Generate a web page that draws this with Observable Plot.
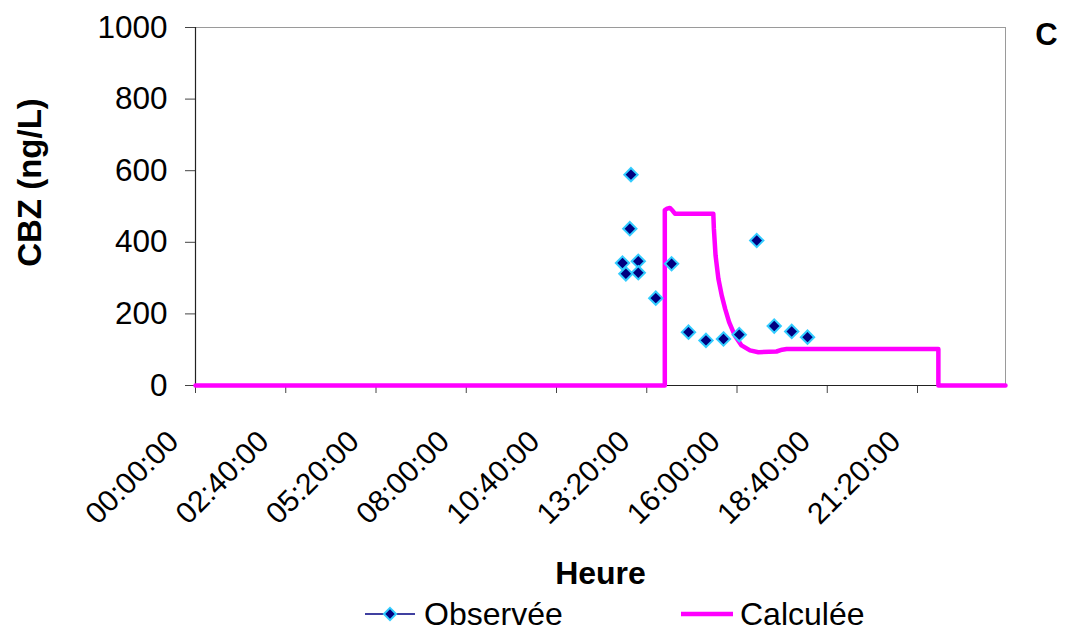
<!DOCTYPE html>
<html><head><meta charset="utf-8">
<script src="https://cdn.jsdelivr.net/npm/d3@7"></script>
<script src="https://cdn.jsdelivr.net/npm/@observablehq/plot@0.6"></script>
<style>
body{margin:0;background:#fff;font-family:"Liberation Sans",Arial,sans-serif;}
#legend{width:1077px;height:42px;}
</style></head><body>
<div id="chart"></div>
<div id="legend"></div>
<script>
// Observed data (time in minutes since 00:00)
const obsTime  = [757, 763, 770, 772, 785, 785, 816, 844, 874, 905, 936, 964, 995, 1026, 1057, 1085];
const obsValue = [342, 312, 438, 589, 347, 315, 244, 340, 149, 126, 130, 142, 405, 166, 151, 135];
// Calculated series
const calcTime  = [0, 832, 832, 836, 841, 846, 850, 918, 919, 922, 927, 933, 939, 946, 956, 968, 983, 998, 1030, 1040, 1048, 1317, 1317, 1436];
const calcValue = [0, 0, 490, 494, 496, 488, 480, 480, 438, 363, 298, 251, 214, 177, 140, 112, 98, 93, 95, 100, 102, 102, 0, 0];
const xTicks = [0, 160, 320, 480, 640, 800, 960, 1120, 1280];
const yTicks = [0, 200, 400, 600, 800, 1000];
const seriesNames = ["Observée", "Calculée"];

const obs = obsTime.map((t, i) => ({t, v: obsValue[i]}));
const calc = calcTime.map((t, i) => ({t, v: calcValue[i]}));
const pad = n => String(n).padStart(2, "0");
const fmt = m => `${pad(Math.floor(m / 60))}:${pad(m % 60)}:00`;

const chart = Plot.plot({
  width: 1077,
  height: 592,
  marginLeft: 195,
  marginRight: 72,
  marginTop: 27,
  marginBottom: 207,
  style: {fontFamily: "'Liberation Sans', Arial, sans-serif", fontSize: "30px", color: "#000", background: "#fff"},
  x: {domain: [0, 1436], axis: null},
  y: {domain: [0, 1000], axis: null},
  marks: [
    Plot.frame({stroke: "#9a9a9a", strokeWidth: 1}),
    Plot.axisY({ticks: yTicks, tickSize: 10, tickPadding: 18, tickFormat: d => String(d), fontSize: 31.5, stroke: "#444", label: null}),
    Plot.axisX({ticks: xTicks, tickSize: 8, tickFormat: () => "", stroke: "#444", label: null}),
    Plot.ruleX([0], {stroke: "#222", strokeWidth: 1.2}),
    Plot.ruleY([0], {stroke: "#222", strokeWidth: 1.2}),
    Plot.text(xTicks, {x: d => d, frameAnchor: "bottom", text: fmt, rotate: -45, textAnchor: "end", lineAnchor: "middle", dx: -22, dy: 51, fontSize: 30}),
    Plot.line(calc, {x: "t", y: "v", stroke: "#FF00FF", strokeWidth: 4.5, strokeLinejoin: "round"}),
    Plot.dot(obs, {x: "t", y: "v", symbol: "diamond2", r: 6, fill: "#000080", stroke: "#33CCFF", strokeWidth: 2}),
    Plot.text(["CBZ (ng/L)"], {frameAnchor: "left", textAnchor: "middle", dx: -165, dy: -24, rotate: -90, fontWeight: "bold", fontSize: 33, lineAnchor: "middle"}),
    Plot.text(["Heure"], {frameAnchor: "bottom", textAnchor: "middle", dy: 188, fontWeight: "bold", fontSize: 32, lineAnchor: "middle"}),
    Plot.text(["C"], {frameAnchor: "top-right", textAnchor: "middle", dx: 41, dy: 8, fontWeight: "bold", fontSize: 31, lineAnchor: "middle"})
  ]
});
document.getElementById("chart").appendChild(chart);

// Legend
const lg = d3.select("#legend").append("svg").attr("width", 1077).attr("height", 42)
  .style("font-family", "'Liberation Sans', Arial, sans-serif");
const cy = 22;
lg.append("line").attr("x1", 365).attr("x2", 415).attr("y1", cy).attr("y2", cy).attr("stroke", "#000080").attr("stroke-width", 1.5);
lg.append("path").attr("d", d3.symbol(d3.symbolDiamond2, 95)()).attr("transform", `translate(390,${cy})`)
  .attr("fill", "#000080").attr("stroke", "#33CCFF").attr("stroke-width", 2);
lg.append("text").attr("x", 424).attr("y", cy).attr("dominant-baseline", "central").attr("font-size", 32).text(seriesNames[0]);
lg.append("line").attr("x1", 681).attr("x2", 733).attr("y1", cy).attr("y2", cy).attr("stroke", "#FF00FF").attr("stroke-width", 4.5);
lg.append("text").attr("x", 740).attr("y", cy).attr("dominant-baseline", "central").attr("font-size", 32).text(seriesNames[1]);
</script>
</body></html>
